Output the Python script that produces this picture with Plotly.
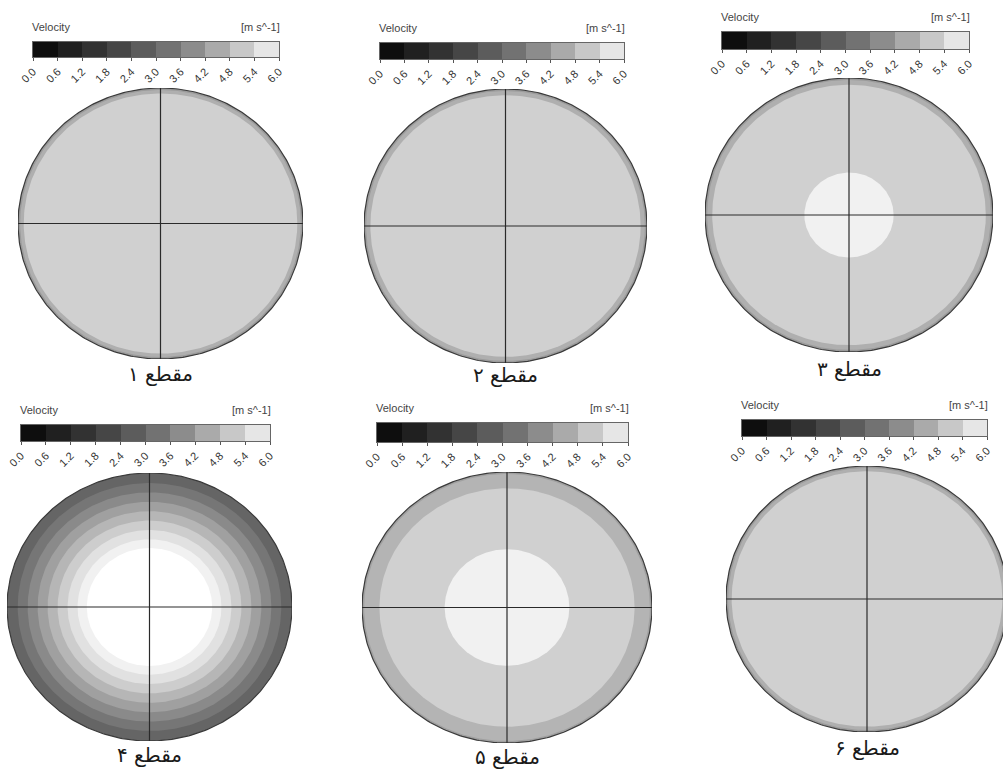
import numpy as np
import plotly.graph_objects as go

W, H = 1003, 769

# ---------------- data ----------------
LEVEL_TICKS = [0.0, 0.6, 1.2, 1.8, 2.4, 3.0, 3.6, 4.2, 4.8, 5.4, 6.0]
TICK_LABELS = ["0.0", "0.6", "1.2", "1.8", "2.4", "3.0", "3.6", "4.2", "4.8", "5.4", "6.0"]
BIN_CENTERS = [0.3, 0.9, 1.5, 2.1, 2.7, 3.3, 3.9, 4.5, 5.1, 5.7]

SECTION_NAMES = ["مقطع ۱", "مقطع ۲", "مقطع ۳", "مقطع ۴", "مقطع ۵", "مقطع ۶"]

# radial bands: outer radius (fraction of pipe radius) and velocity (m/s) of each band
S1_RADIUS = [1.0, 0.985, 0.96]
S1_VELOCITY = [4.2, 4.6, 5.25]
S2_RADIUS = [1.0, 0.985, 0.955]
S2_VELOCITY = [4.2, 4.6, 5.25]
S3_RADIUS = [1.0, 0.985, 0.95, 0.31]
S3_VELOCITY = [4.2, 4.6, 5.25, 5.95]
S4_RADIUS = [1.0, 0.925, 0.855, 0.785, 0.715, 0.645, 0.575, 0.505, 0.44]
S4_VELOCITY = [2.95, 3.4, 3.85, 4.3, 4.75, 5.2, 5.6, 5.95, 6.2]
S5_RADIUS = [1.0, 0.985, 0.88, 0.43]
S5_VELOCITY = [4.3, 4.7, 5.25, 5.95]
S6_RADIUS = [1.0, 0.985, 0.96]
S6_VELOCITY = [4.2, 4.6, 5.25]

SECTIONS = [
    (S1_RADIUS, S1_VELOCITY),
    (S2_RADIUS, S2_VELOCITY),
    (S3_RADIUS, S3_VELOCITY),
    (S4_RADIUS, S4_VELOCITY),
    (S5_RADIUS, S5_VELOCITY),
    (S6_RADIUS, S6_VELOCITY),
]

# ---------------- style / layout ----------------
BAR_GREYS = [14, 32, 50, 70, 92, 114, 140, 170, 200, 230]
MAP_V = [0.0] + BIN_CENTERS + [6.0, 6.2]
MAP_G = [10] + BAR_GREYS + [243, 255]


def grey(v):
    g = int(round(float(np.interp(v, MAP_V, MAP_G))))
    return f"rgb({g},{g},{g})"


def grey_bin(g):
    return f"rgb({g},{g},{g})"


# pixel boxes (left, top, right, bottom)
CIRCLE_BOX = [
    (18, 88, 303, 359),
    (364, 89, 647, 363),
    (705, 78, 993, 352),
    (7, 473, 292, 741),
    (362, 472, 652, 743),
    (726, 466, 1008, 732),
]
BAR_BOX = [
    (33, 42, 279, 57),
    (380, 43, 624, 59),
    (722, 32, 969, 49),
    (21, 425, 270, 441),
    (377, 423, 628, 442),
    (742, 420, 987, 436),
]
LABEL_Y = [374, 375, 369, 755, 757, 748]

fig = go.Figure()
layout = dict(
    width=W, height=H,
    margin=dict(l=0, r=0, t=0, b=0, pad=0),
    paper_bgcolor="white", plot_bgcolor="rgba(0,0,0,0)",
    showlegend=False, bargap=0,
    font=dict(family="Liberation Sans, Arial, sans-serif", color="#333"),
)
annotations = []

theta = np.linspace(0, 2 * np.pi, 361)

ax = 0
for i in range(6):
    # ---------- legend bar ----------
    ax += 1
    xa = "x" if ax == 1 else f"x{ax}"
    ya = "y" if ax == 1 else f"y{ax}"
    l, t, r, b = BAR_BOX[i]
    fig.add_trace(go.Bar(
        x=BIN_CENTERS, y=[1] * len(BIN_CENTERS), width=0.6,
        marker=dict(color=[grey_bin(g) for g in BAR_GREYS], line=dict(width=0)),
        xaxis=xa, yaxis=ya, hoverinfo="skip",
    ))
    layout["xaxis" if ax == 1 else f"xaxis{ax}"] = dict(
        domain=[l / W, r / W], range=[0, 6.0], anchor=ya, automargin=False,
        tickmode="array", tickvals=LEVEL_TICKS, ticktext=TICK_LABELS,
        tickangle=-45, ticks="outside", ticklen=3, tickcolor="#555",
        tickfont=dict(size=11, color="#333"),
        showline=True, linecolor="#666", linewidth=1, mirror=True,
        showgrid=False, zeroline=False, fixedrange=True,
    )
    layout["yaxis" if ax == 1 else f"yaxis{ax}"] = dict(
        domain=[1 - b / H, 1 - t / H], range=[0, 1], anchor=xa, automargin=False,
        showticklabels=False, ticks="", showline=True, linecolor="#666",
        linewidth=1, mirror=True, showgrid=False, zeroline=False, fixedrange=True,
    )
    annotations.append(dict(x=l / W, y=1 - (t - 7) / H, xref="paper", yref="paper",
                            text="Velocity", showarrow=False, xanchor="left",
                            yanchor="bottom", xshift=-3,
                            font=dict(size=11, color="#444")))
    annotations.append(dict(x=r / W, y=1 - (t - 7) / H, xref="paper", yref="paper",
                            text="[m s^-1]", showarrow=False, xanchor="right",
                            yanchor="bottom", xshift=3,
                            font=dict(size=11, color="#444")))

    # ---------- section contour ----------
    ax += 1
    xa = f"x{ax}"
    ya = f"y{ax}"
    l, t, r, b = CIRCLE_BOX[i]
    rr = min(r, W)
    xmax = -1 + 2 * (rr - l) / (r - l)
    radii, vels = SECTIONS[i]
    for rad, v in zip(radii, vels):
        fig.add_trace(go.Scatter(
            x=rad * np.cos(theta), y=rad * np.sin(theta), mode="lines",
            fill="toself", fillcolor=grey(v), line=dict(width=0, color=grey(v)),
            xaxis=xa, yaxis=ya, hoverinfo="skip",
        ))
    fig.add_trace(go.Scatter(
        x=np.cos(theta), y=np.sin(theta), mode="lines",
        line=dict(width=1.2, color="#3a3a3a"), xaxis=xa, yaxis=ya, hoverinfo="skip",
    ))
    fig.add_trace(go.Scatter(
        x=[-1, 1, None, 0, 0], y=[0, 0, None, -1, 1], mode="lines",
        line=dict(width=1.2, color="#2a2a2a"), xaxis=xa, yaxis=ya, hoverinfo="skip",
    ))
    layout[f"xaxis{ax}"] = dict(domain=[l / W, rr / W], range=[-1.0, xmax], anchor=ya,
                                visible=False, fixedrange=True, automargin=False)
    layout[f"yaxis{ax}"] = dict(domain=[1 - b / H, 1 - t / H], range=[-1.0, 1.0], anchor=xa,
                                visible=False, fixedrange=True, automargin=False)
    annotations.append(dict(x=(l + r) / 2 / W, y=1 - LABEL_Y[i] / H, xref="paper", yref="paper",
                            text=SECTION_NAMES[i], showarrow=False, xanchor="center",
                            yanchor="middle",
                            font=dict(size=20, color="#1a1a1a", family="DejaVu Sans, sans-serif")))

layout["annotations"] = annotations
fig.update_layout(**layout)
fig.write_html("out.html", config={"displayModeBar": False, "staticPlot": True},
               post_script="document.body.style.margin='0';document.body.style.overflow='hidden';")
